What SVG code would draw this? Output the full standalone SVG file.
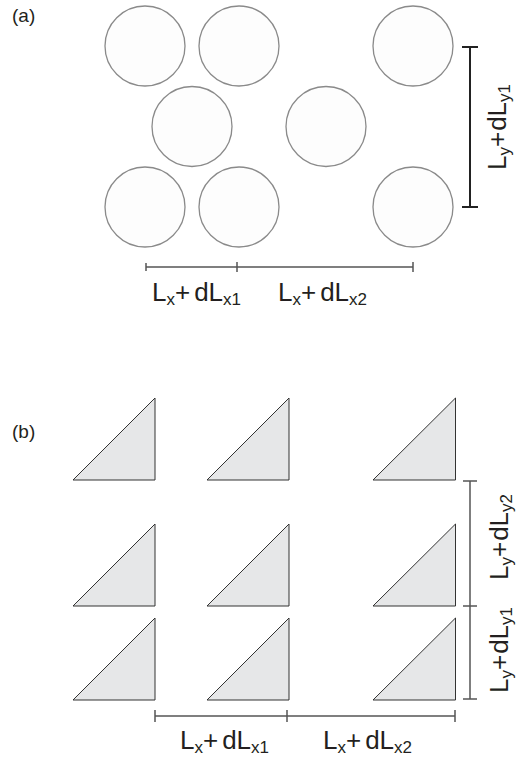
<svg xmlns="http://www.w3.org/2000/svg" width="518" height="759" viewBox="0 0 518 759">
<style>
.c{fill:#fdfdfd;stroke:#8a8a8a;stroke-width:1.3}
.t{fill:#e6e7e8;stroke:#333;stroke-width:1}
.dim{stroke:#555;stroke-width:1.5;fill:none}
.dimk{stroke:#222;stroke-width:2;fill:none}
.lbl{font-family:"Liberation Sans",Arial,sans-serif;font-size:26px;fill:#231f20}
.sub{font-size:17px}
.pl{font-family:"Liberation Sans",Arial,sans-serif;font-size:19px;fill:#231f20}
</style>
<rect width="518" height="759" fill="#fff"/>
<text class="pl" x="12" y="22">(a)</text>
<text class="pl" x="12" y="438">(b)</text>
<g id="circles">
<g id="c1"><circle class="c" cx="145" cy="46" r="40"/></g>
<g id="c2"><circle class="c" cx="239" cy="46" r="40"/></g>
<g id="c3"><circle class="c" cx="413" cy="46" r="40"/></g>
<g id="c4"><circle class="c" cx="192" cy="126.5" r="40"/></g>
<g id="c5"><circle class="c" cx="326" cy="126.5" r="40"/></g>
<g id="c6"><circle class="c" cx="145" cy="207" r="40"/></g>
<g id="c7"><circle class="c" cx="239" cy="207" r="40"/></g>
<g id="c8"><circle class="c" cx="413" cy="207" r="40"/></g>
</g>
<g id="triangles">
<g id="t1"><path class="t" d="M73,480 L155,398 L155,480 Z"/></g>
<g id="t2"><path class="t" d="M207,480 L289,398 L289,480 Z"/></g>
<g id="t3"><path class="t" d="M373,480 L455.5,398 L455.5,480 Z"/></g>
<g id="t4"><path class="t" d="M73,606 L155,524 L155,606 Z"/></g>
<g id="t5"><path class="t" d="M207,606 L289,524 L289,606 Z"/></g>
<g id="t6"><path class="t" d="M373,606 L455.5,524 L455.5,606 Z"/></g>
<g id="t7"><path class="t" d="M73,700 L155,618 L155,700 Z"/></g>
<g id="t8"><path class="t" d="M207,700 L289,618 L289,700 Z"/></g>
<g id="t9"><path class="t" d="M373,700 L455.5,618 L455.5,700 Z"/></g>
</g>
<g id="connectors">
<path class="dim" d="M146,267 H413 M146,263 V271 M237,262 V272 M413,262 V272"/>
<path class="dimk" d="M470,47 V207 M462,47 H478 M462,207 H478"/>
<path class="dim" d="M155,716 H455 M155,710 V722 M287,710 V722 M455,710 V722"/>
<path class="dim" d="M470,481 V699 M463,481 H477 M463,606 H477 M463,699 H477"/>
</g>
<g id="labels">
<text class="lbl" x="152" y="301">L<tspan class="sub" dy="4">x</tspan><tspan dy="-4">+</tspan><tspan dx="4">dL</tspan><tspan class="sub" dy="4">x1</tspan></text>
<text class="lbl" x="278" y="301">L<tspan class="sub" dy="4">x</tspan><tspan dy="-4">+</tspan><tspan dx="4">dL</tspan><tspan class="sub" dy="4">x2</tspan></text>
<text class="lbl" x="180" y="749">L<tspan class="sub" dy="4">x</tspan><tspan dy="-4">+</tspan><tspan dx="4">dL</tspan><tspan class="sub" dy="4">x1</tspan></text>
<text class="lbl" x="323" y="749">L<tspan class="sub" dy="4">x</tspan><tspan dy="-4">+</tspan><tspan dx="4">dL</tspan><tspan class="sub" dy="4">x2</tspan></text>
<text class="lbl" transform="translate(506,170) rotate(-90)">L<tspan class="sub" dy="4">y</tspan><tspan dy="-4">+</tspan><tspan dx="1">dL</tspan><tspan class="sub" dy="4">y1</tspan></text>
<text class="lbl" transform="translate(508,580) rotate(-90)">L<tspan class="sub" dy="4">y</tspan><tspan dy="-4">+</tspan><tspan dx="1">dL</tspan><tspan class="sub" dy="4">y2</tspan></text>
<text class="lbl" transform="translate(508,693) rotate(-90)">L<tspan class="sub" dy="4">y</tspan><tspan dy="-4">+</tspan><tspan dx="1">dL</tspan><tspan class="sub" dy="4">y1</tspan></text>
</g>
</svg>
